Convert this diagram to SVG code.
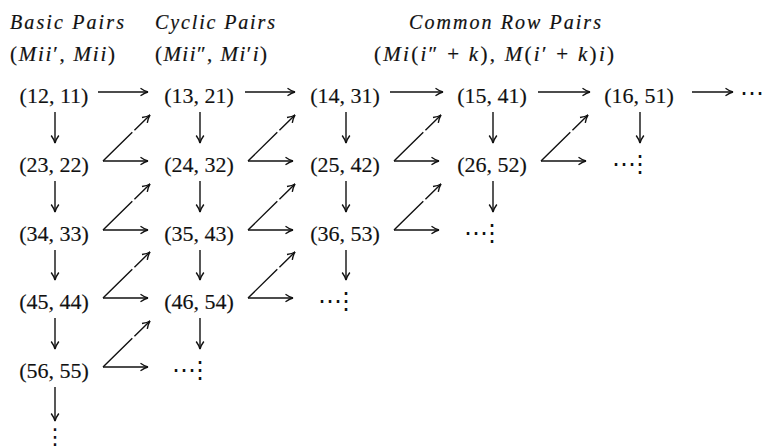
<svg xmlns="http://www.w3.org/2000/svg" width="765" height="448" viewBox="0 0 765 448">
<style>
text{font-family:"Liberation Serif","DejaVu Serif",serif;fill:#111}
.n{font-size:22px;text-anchor:middle;stroke:#111;stroke-width:0.15}
.h{font-size:20px;font-style:italic;stroke:#111;stroke-width:0.2}
.m{font-size:21px;stroke:#111;stroke-width:0.2}
.i{font-style:italic}
.d{font-size:24px;font-family:"DejaVu Sans",sans-serif}
.dv{letter-spacing:-8px}
line{stroke:#111;stroke-width:1.4;fill:none}
.dg{stroke-dasharray:41 3 200}
</style>
<defs>
<marker id="ah" markerUnits="userSpaceOnUse" markerWidth="12" markerHeight="12" viewBox="-9 -6 11 12" refX="0" refY="0" orient="auto">
<path d="M-7.5,-3.8 Q-3,-0.6 0,0 Q-3,0.6 -7.5,3.8" fill="none" stroke="#111" stroke-width="1.4"/>
</marker>
</defs>
<rect width="765" height="448" fill="#fff"/>
<g id="headings">
<text class="h" x="10" y="29" textLength="114" lengthAdjust="spacing">Basic Pairs</text>
<text class="h" x="155" y="29" textLength="120" lengthAdjust="spacing">Cyclic Pairs</text>
<text class="h" x="409" y="29" textLength="192" lengthAdjust="spacing">Common Row Pairs</text>
<text class="m" x="10" y="61" textLength="105" lengthAdjust="spacing">(<tspan class="i">Mii</tspan>′, <tspan class="i">Mii</tspan>)</text>
<text class="m" x="155" y="61" textLength="112" lengthAdjust="spacing">(<tspan class="i">Mii</tspan>″, <tspan class="i">Mi</tspan>′<tspan class="i">i</tspan>)</text>
<text class="m" x="374" y="61" textLength="240" lengthAdjust="spacing">(<tspan class="i">Mi</tspan>(<tspan class="i">i</tspan>″ + <tspan class="i">k</tspan>), <tspan class="i">M</tspan>(<tspan class="i">i</tspan>′ + <tspan class="i">k</tspan>)<tspan class="i">i</tspan>)</text>
</g>
<g id="n12-11"><text class="n" x="54" y="103">(12, 11)</text></g>
<g id="n13-21"><text class="n" x="199" y="103">(13, 21)</text></g>
<g id="n14-31"><text class="n" x="345" y="103">(14, 31)</text></g>
<g id="n15-41"><text class="n" x="492" y="103">(15, 41)</text></g>
<g id="n16-51"><text class="n" x="639" y="103">(16, 51)</text></g>
<g id="r1-more"><text class="d" x="740" y="101">⋯</text></g>
<g id="n23-22"><text class="n" x="54" y="172">(23, 22)</text></g>
<g id="n24-32"><text class="n" x="199" y="172">(24, 32)</text></g>
<g id="n25-42"><text class="n" x="345" y="172">(25, 42)</text></g>
<g id="n26-52"><text class="n" x="492" y="172">(26, 52)</text></g>
<g id="r2-more"><text class="d dv" x="612" y="172">⋯⋮</text></g>
<g id="n34-33"><text class="n" x="54" y="241">(34, 33)</text></g>
<g id="n35-43"><text class="n" x="199" y="241">(35, 43)</text></g>
<g id="n36-53"><text class="n" x="345" y="241">(36, 53)</text></g>
<g id="r3-more"><text class="d dv" x="464" y="241">⋯⋮</text></g>
<g id="n45-44"><text class="n" x="54" y="309">(45, 44)</text></g>
<g id="n46-54"><text class="n" x="199" y="309">(46, 54)</text></g>
<g id="r4-more"><text class="d dv" x="318" y="309">⋯⋮</text></g>
<g id="n56-55"><text class="n" x="54" y="378">(56, 55)</text></g>
<g id="r5-more"><text class="d dv" x="172" y="378">⋯⋮</text></g>
<g id="r6-more"><text class="d" x="55" y="444" text-anchor="middle" style="font-size:22px">⋮</text></g>
<g id="connectors">
<line x1="98" y1="92" x2="148" y2="92" marker-end="url(#ah)"/>
<line x1="245" y1="92" x2="295" y2="92" marker-end="url(#ah)"/>
<line x1="390" y1="92" x2="443" y2="92" marker-end="url(#ah)"/>
<line x1="538" y1="92" x2="590" y2="92" marker-end="url(#ah)"/>
<line x1="692" y1="92" x2="733" y2="92" marker-end="url(#ah)"/>
<line x1="55" y1="112" x2="55" y2="143" marker-end="url(#ah)"/>
<line x1="55" y1="181" x2="55" y2="212" marker-end="url(#ah)"/>
<line x1="55" y1="250" x2="55" y2="280" marker-end="url(#ah)"/>
<line x1="55" y1="318" x2="55" y2="349" marker-end="url(#ah)"/>
<line x1="55" y1="387" x2="55" y2="421" marker-end="url(#ah)"/>
<line x1="200" y1="112" x2="200" y2="143" marker-end="url(#ah)"/>
<line x1="200" y1="181" x2="200" y2="212" marker-end="url(#ah)"/>
<line x1="200" y1="250" x2="200" y2="280" marker-end="url(#ah)"/>
<line x1="200" y1="318" x2="200" y2="349" marker-end="url(#ah)"/>
<line x1="346" y1="112" x2="346" y2="143" marker-end="url(#ah)"/>
<line x1="346" y1="181" x2="346" y2="212" marker-end="url(#ah)"/>
<line x1="346" y1="250" x2="346" y2="280" marker-end="url(#ah)"/>
<line x1="493" y1="112" x2="493" y2="143" marker-end="url(#ah)"/>
<line x1="493" y1="181" x2="493" y2="212" marker-end="url(#ah)"/>
<line x1="640" y1="112" x2="640" y2="143" marker-end="url(#ah)"/>
<line x1="103" y1="161" x2="148" y2="161" marker-end="url(#ah)"/>
<line class="dg" x1="103" y1="161" x2="150" y2="115" marker-end="url(#ah)"/>
<line x1="248" y1="161" x2="293" y2="161" marker-end="url(#ah)"/>
<line class="dg" x1="248" y1="161" x2="295" y2="115" marker-end="url(#ah)"/>
<line x1="394" y1="161" x2="439" y2="161" marker-end="url(#ah)"/>
<line class="dg" x1="394" y1="161" x2="441" y2="115" marker-end="url(#ah)"/>
<line x1="541" y1="161" x2="586" y2="161" marker-end="url(#ah)"/>
<line class="dg" x1="541" y1="161" x2="588" y2="115" marker-end="url(#ah)"/>
<line x1="103" y1="230" x2="148" y2="230" marker-end="url(#ah)"/>
<line class="dg" x1="103" y1="230" x2="150" y2="184" marker-end="url(#ah)"/>
<line x1="248" y1="230" x2="293" y2="230" marker-end="url(#ah)"/>
<line class="dg" x1="248" y1="230" x2="295" y2="184" marker-end="url(#ah)"/>
<line x1="394" y1="230" x2="439" y2="230" marker-end="url(#ah)"/>
<line class="dg" x1="394" y1="230" x2="441" y2="184" marker-end="url(#ah)"/>
<line x1="103" y1="298" x2="148" y2="298" marker-end="url(#ah)"/>
<line class="dg" x1="103" y1="298" x2="150" y2="252" marker-end="url(#ah)"/>
<line x1="248" y1="298" x2="293" y2="298" marker-end="url(#ah)"/>
<line class="dg" x1="248" y1="298" x2="295" y2="252" marker-end="url(#ah)"/>
<line x1="103" y1="367" x2="148" y2="367" marker-end="url(#ah)"/>
<line class="dg" x1="103" y1="367" x2="150" y2="321" marker-end="url(#ah)"/>
</g>
</svg>
